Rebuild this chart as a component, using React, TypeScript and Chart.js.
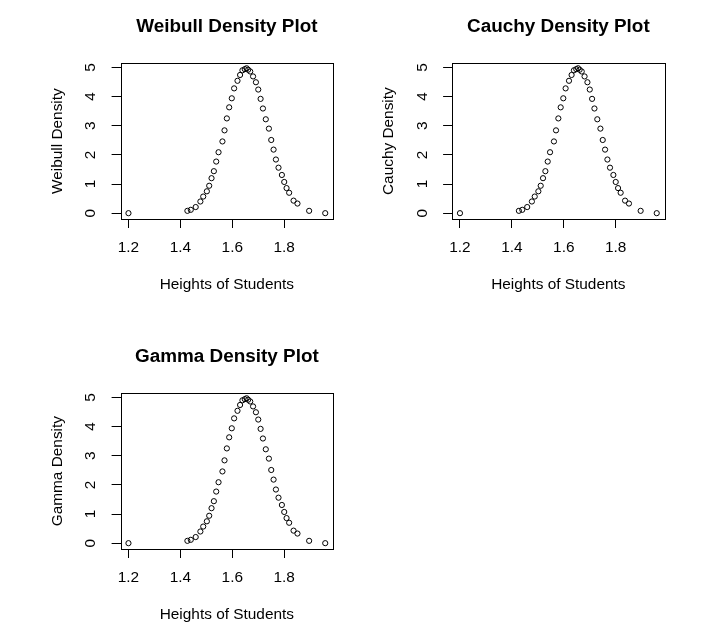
import React, { useEffect, useRef } from "react";
import { Chart, registerables } from "chart.js";

Chart.register(...registerables);

// Student heights (m) and the density evaluated at each height
const heights = [
  1.2, 1.427, 1.44, 1.459, 1.477, 1.488, 1.502, 1.511, 1.52, 1.529, 1.538,
  1.547, 1.562, 1.57, 1.579, 1.588, 1.598, 1.607, 1.62, 1.63, 1.639, 1.648,
  1.655, 1.661, 1.669, 1.68, 1.691, 1.7, 1.709, 1.718, 1.729, 1.741, 1.75,
  1.759, 1.768, 1.778, 1.791, 1.8, 1.809, 1.819, 1.836, 1.851, 1.896, 1.958,
];
const density = [
  0.0, 0.08, 0.115, 0.21, 0.4, 0.57, 0.75, 0.94, 1.2, 1.44, 1.77, 2.09, 2.46,
  2.84, 3.25, 3.63, 3.94, 4.28, 4.54, 4.74, 4.9, 4.94, 4.97, 4.92, 4.86, 4.69,
  4.49, 4.24, 3.92, 3.59, 3.22, 2.9, 2.51, 2.18, 1.84, 1.56, 1.31, 1.07, 0.86,
  0.7, 0.43, 0.33, 0.08, 0.0,
];

const xTicks = [1.2, 1.4, 1.6, 1.8];
const yTicks = [0, 1, 2, 3, 4, 5];

const panelTitles = ["Weibull Density Plot", "Cauchy Density Plot", "Gamma Density Plot"];
const yTitles = ["Weibull Density", "Cauchy Density", "Gamma Density"];
const xTitle = "Heights of Students";

const W = 706;
const H = 630;
const FONT = "'Liberation Sans', Arial, Helvetica, sans-serif";

// plot region (left, top) of each panel on the page
const panels = [
  { left: 120.6, top: 63.3 },
  { left: 452.1, top: 63.3 },
  { left: 120.6, top: 393.3 },
];
const BOX_W = 212.5;
const BOX_H = 155.7;
const Y_AXIS_W = 80;
const X_AXIS_H = 80;

const TITLE_SIZE = 18.9;
const TITLE_PAD_TOP = 15;
const TITLE_PAD_BOTTOM = 25.6;
const TITLE_BLOCK = TITLE_PAD_TOP + TITLE_SIZE * 1.2 + TITLE_PAD_BOTTOM;

const TEXT_SIZE = 15.4;

// frame around the plot region
const boxPlugin = {
  id: "plotBox",
  afterDatasetsDraw(chart: any) {
    const { ctx, chartArea: a } = chart;
    const l = Math.round(a.left) + 0.5;
    const t = Math.round(a.top) + 0.5;
    const r = Math.round(a.right) + 0.5;
    const b = Math.round(a.bottom) + 0.5;
    ctx.save();
    ctx.strokeStyle = "#000";
    ctx.lineWidth = 1;
    ctx.strokeRect(l, t, r - l, b - t);
    ctx.restore();
  },
};

function makeConfig(i: number): any {
  const p = panels[i];
  const textFont = { family: FONT, size: TEXT_SIZE, lineHeight: 1.2 };
  return {
    type: "scatter",
    data: {
      datasets: [
        {
          data: heights.map((h, k) => ({ x: h, y: density[k] })),
          pointStyle: "circle",
          pointRadius: 2.6,
          pointHoverRadius: 2.6,
          pointBorderWidth: 1,
          pointBorderColor: "#000",
          pointBackgroundColor: "rgba(0,0,0,0)",
          showLine: false,
        },
      ],
    },
    options: {
      responsive: false,
      maintainAspectRatio: false,
      animation: false,
      devicePixelRatio: 1,
      events: [],
      layout: {
        padding: {
          left: p.left - Y_AXIS_W,
          top: p.top - TITLE_BLOCK,
          right: W - (p.left + BOX_W),
          bottom: H - (p.top + BOX_H) - X_AXIS_H,
        },
      },
      plugins: {
        legend: { display: false },
        tooltip: { enabled: false },
        title: {
          display: true,
          text: panelTitles[i],
          fullSize: false,
          color: "#000",
          font: { family: FONT, size: TITLE_SIZE, weight: "bold", lineHeight: 1.2 },
          padding: { top: TITLE_PAD_TOP, bottom: TITLE_PAD_BOTTOM },
        },
      },
      scales: {
        x: {
          type: "linear",
          position: "bottom",
          min: 1.1697,
          max: 1.9883,
          afterBuildTicks: (s: any) => {
            s.ticks = xTicks.map((v) => ({ value: v }));
          },
          afterFit: (s: any) => {
            s.height = X_AXIS_H;
          },
          ticks: {
            autoSkip: false,
            minRotation: 0,
            maxRotation: 0,
            padding: 11,
            color: "#000",
            font: textFont,
            callback: (v: any) => Number(v).toFixed(1),
          },
          grid: { drawOnChartArea: false, drawTicks: true, tickLength: 9, color: "#000" },
          border: { display: false },
          title: {
            display: true,
            text: xTitle,
            color: "#000",
            font: textFont,
            padding: { top: 0, bottom: 5.3 },
          },
        },
        y: {
          type: "linear",
          position: "left",
          min: -0.2,
          max: 5.14,
          afterBuildTicks: (s: any) => {
            s.ticks = yTicks.map((v) => ({ value: v }));
          },
          afterFit: (s: any) => {
            s.width = Y_AXIS_W;
          },
          ticks: {
            autoSkip: false,
            minRotation: 90,
            maxRotation: 90,
            crossAlign: "center",
            padding: 16.3,
            color: "#000",
            font: textFont,
            callback: (v: any) => String(v),
          },
          grid: { drawOnChartArea: false, drawTicks: true, tickLength: 9, color: "#000" },
          border: { display: false },
          title: {
            display: true,
            text: yTitles[i],
            color: "#000",
            font: textFont,
            padding: { top: 7.7, bottom: 0 },
          },
        },
      },
    },
    plugins: [boxPlugin],
  };
}

function Panel({ index }: { index: number }) {
  const ref = useRef<HTMLCanvasElement | null>(null);
  useEffect(() => {
    if (!ref.current) return;
    const chart = new Chart(ref.current, makeConfig(index));
    return () => chart.destroy();
  }, [index]);
  return (
    <canvas
      ref={ref}
      width={W}
      height={H}
      style={{ position: "absolute", left: 0, top: 0, width: W, height: H }}
    />
  );
}

export default function App() {
  return (
    <div
      style={{
        position: "absolute",
        left: 0,
        top: 0,
        width: W,
        height: H,
        background: "#fff",
      }}
    >
      {panelTitles.map((_, i) => (
        <Panel key={i} index={i} />
      ))}
    </div>
  );
}
